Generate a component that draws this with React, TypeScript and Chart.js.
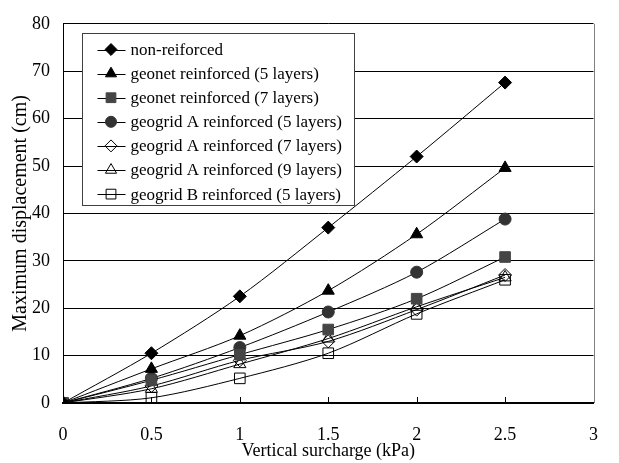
import React, { useEffect, useRef } from "react";
import { Chart, registerables } from "chart.js";

Chart.register(...registerables);

const surcharge = [0, 0.5, 1, 1.5, 2, 2.5];
const xTickLabels = ["0", "0.5", "1", "1.5", "2", "2.5", "3"];
const yTickValues = [0, 10, 20, 30, 40, 50, 60, 70, 80];

const seriesNames = [
  "non-reiforced",
  "geonet reinforced (5 layers)",
  "geonet reinforced (7 layers)",
  "geogrid A reinforced (5 layers)",
  "geogrid A reinforced (7 layers)",
  "geogrid A reinforced (9 layers)",
  "geogrid B reinforced (5 layers)",
];

const nonReinforced = [0, 10.5, 22.5, 37, 52, 67.6];
const geonet5 = [0, 7.2, 14.2, 23.7, 35.6, 49.6];
const geonet7 = [0, 4.8, 10.2, 15.5, 22, 30.8];
const geogridA5 = [0, 5.2, 11.7, 19.2, 27.6, 38.8];
const geogridA7 = [0, 3.6, 9, 13, 19.7, 27];
const geogridA9 = [0, 3, 8.2, 13.6, 20.3, 26.5];
const geogridB5 = [0, 1.1, 5.2, 10.5, 18.8, 26];

const seriesValues = [nonReinforced, geonet5, geonet7, geogridA5, geogridA7, geogridA9, geogridB5];

type Marker = { shape: string; fill: string | null; stroke: string; r: number };
const markers: Marker[] = [
  { shape: "rectRot", fill: "#000000", stroke: "#000000", r: 6.5 },
  { shape: "triangle", fill: "#000000", stroke: "#000000", r: 7 },
  { shape: "rect", fill: "#454545", stroke: "#454545", r: 7.5 },
  { shape: "circle", fill: "#333333", stroke: "#333333", r: 6 },
  { shape: "rectRot", fill: null, stroke: "#000000", r: 6.5 },
  { shape: "triangle", fill: null, stroke: "#000000", r: 7 },
  { shape: "rect", fill: null, stroke: "#000000", r: 7.5 },
];

const FONT = "'Liberation Serif', 'Times New Roman', serif";

function drawMarker(ctx: CanvasRenderingContext2D, m: Marker, x: number, y: number, r: number) {
  ctx.beginPath();
  if (m.shape === "circle") {
    ctx.arc(x, y, r, 0, Math.PI * 2);
  } else if (m.shape === "rectRot") {
    ctx.moveTo(x, y - r);
    ctx.lineTo(x + r, y);
    ctx.lineTo(x, y + r);
    ctx.lineTo(x - r, y);
    ctx.closePath();
  } else if (m.shape === "rect") {
    const s = r * Math.SQRT1_2;
    ctx.rect(x - s, y - s, 2 * s, 2 * s);
  } else if (m.shape === "triangle") {
    ctx.moveTo(x, y - r);
    ctx.lineTo(x + r * Math.sin((2 * Math.PI) / 3), y - r * Math.cos((2 * Math.PI) / 3));
    ctx.lineTo(x + r * Math.sin((4 * Math.PI) / 3), y - r * Math.cos((4 * Math.PI) / 3));
    ctx.closePath();
  }
  if (m.fill) {
    ctx.fillStyle = m.fill;
    ctx.fill();
  }
  ctx.strokeStyle = m.stroke;
  ctx.lineWidth = 1;
  ctx.stroke();
}

const framePlugin = {
  id: "frame",
  beforeDatasetsDraw(chart: any) {
    const { ctx, chartArea } = chart;
    const xs = chart.scales.x;
    ctx.save();
    ctx.strokeStyle = "#808080";
    ctx.lineWidth = 1;
    ctx.beginPath();
    const rx = Math.round(chartArea.right) + 0.5;
    ctx.moveTo(rx, chartArea.top);
    ctx.lineTo(rx, chartArea.bottom);
    ctx.stroke();
    ctx.strokeStyle = "#000000";
    ctx.beginPath();
    xs.ticks.forEach((t: any) => {
      if (t.value <= 0 || t.value >= 3) return;
      const px = Math.round(xs.getPixelForValue(t.value)) + 0.5;
      ctx.moveTo(px, chartArea.bottom);
      ctx.lineTo(px, chartArea.bottom - 6);
    });
    ctx.stroke();
    ctx.restore();
  },
};

const legendPlugin = {
  id: "boxLegend",
  afterDraw(chart: any) {
    const { ctx, chartArea } = chart;
    const left = Math.round(chartArea.left + 19) + 0.5;
    const top = Math.round(chartArea.top + 9) + 0.5;
    const width = 272;
    const height = 172;
    ctx.save();
    ctx.fillStyle = "#ffffff";
    ctx.fillRect(left, top, width, height);
    ctx.strokeStyle = "#404040";
    ctx.lineWidth = 1;
    ctx.strokeRect(left, top, width, height);
    ctx.font = `17px ${FONT}`;
    ctx.textBaseline = "middle";
    ctx.textAlign = "left";
    chart.data.datasets.forEach((ds: any, i: number) => {
      const cy = top + 16 + i * 24.1;
      const cx = left + 28.5;
      ctx.strokeStyle = "#000000";
      ctx.lineWidth = 1;
      ctx.beginPath();
      ctx.moveTo(left + 15, Math.round(cy) + 0.5);
      ctx.lineTo(left + 43, Math.round(cy) + 0.5);
      ctx.stroke();
      drawMarker(ctx, markers[i], cx, cy, markers[i].r * 0.92);
      ctx.fillStyle = "#000000";
      ctx.fillText(ds.label, left + 48, cy + 1);
    });
    ctx.restore();
  },
};

export default function App() {
  const ref = useRef<HTMLCanvasElement | null>(null);
  useEffect(() => {
    if (!ref.current) return;
    Chart.defaults.font.family = FONT;
    Chart.defaults.color = "#000000";
    const datasets = seriesNames.map((name, i) => ({
      label: name,
      data: surcharge.map((x, j) => ({ x, y: seriesValues[i][j] })),
      borderColor: "#000000",
      borderWidth: 1,
      tension: 0.3,
      pointStyle: markers[i].shape,
      pointRadius: markers[i].r,
      pointBackgroundColor: markers[i].fill ?? "rgba(0,0,0,0)",
      pointBorderColor: markers[i].stroke,
      pointBorderWidth: 1,
      fill: false,
    }));
    const chart = new Chart(ref.current, {
      type: "line",
      data: { datasets },
      plugins: [framePlugin, legendPlugin],
      options: {
        animation: false,
        responsive: false,
        devicePixelRatio: 1,
        layout: { padding: { top: 16, right: 17, left: 0, bottom: 0 } },
        plugins: { legend: { display: false }, tooltip: { enabled: false } },
        scales: {
          x: {
            type: "linear",
            min: 0,
            max: 3,
            afterFit: (s: any) => {
              s.height = 60;
            },
            afterBuildTicks: (s: any) => {
              s.ticks = xTickLabels.map((l) => ({ value: parseFloat(l) }));
            },
            ticks: {
              font: { size: 18, family: FONT },
              color: "#000000",
              padding: 21,
              maxRotation: 0,
              callback: (v: any) => xTickLabels.find((l) => parseFloat(l) === v) ?? "",
            },
            grid: { display: false, drawTicks: false },
            border: { display: true, color: "#000000", width: 2 },
            title: {
              display: true,
              text: "Vertical surcharge (kPa)",
              color: "#000000",
              font: { size: 18, family: FONT },
              padding: { top: 0, bottom: 1 },
            },
          },
          y: {
            type: "linear",
            min: 0,
            max: 80,
            afterFit: (s: any) => {
              s.width = 63;
            },
            afterBuildTicks: (s: any) => {
              s.ticks = yTickValues.map((v) => ({ value: v }));
            },
            ticks: {
              font: { size: 18, family: FONT },
              color: "#000000",
              padding: 13,
              callback: (v: any) => String(v),
            },
            grid: { color: "#000000", lineWidth: 1, drawTicks: false },
            border: { display: true, color: "#000000", width: 1 },
            title: {
              display: true,
              text: "Maximum displacement (cm)",
              color: "#000000",
              font: { size: 20, family: FONT },
              padding: { top: 9, bottom: 0 },
            },
          },
        },
      },
    });
    return () => chart.destroy();
  }, []);
  return (
    <div style={{ position: "fixed", left: 0, top: 0, width: 619, height: 463, background: "#fff" }}>
      <canvas ref={ref} width={619} height={463} />
    </div>
  );
}
